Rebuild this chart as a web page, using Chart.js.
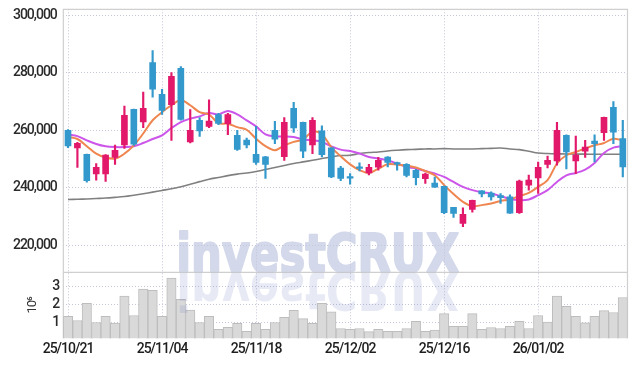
<!DOCTYPE html>
<html><head><meta charset="utf-8">
<script src="https://cdn.jsdelivr.net/npm/chart.js@4.4.1/dist/chart.umd.min.js"></script>
<style>html,body{margin:0;padding:0;background:#fff;overflow:hidden}canvas{display:block}</style>
</head><body>
<canvas id="c" width="637" height="366"></canvas>
<script>
const dates = ['25/10/21','25/10/22','25/10/23','25/10/24','25/10/27','25/10/28','25/10/29','25/10/30','25/10/31',
'25/11/03','25/11/04','25/11/05','25/11/06','25/11/07','25/11/10','25/11/11','25/11/12','25/11/13','25/11/14','25/11/17','25/11/18','25/11/19','25/11/20','25/11/21','25/11/24','25/11/25','25/11/26','25/11/27','25/11/28',
'25/12/01','25/12/02','25/12/03','25/12/04','25/12/05','25/12/08','25/12/09','25/12/10','25/12/11','25/12/12','25/12/15','25/12/16','25/12/17','25/12/18','25/12/19','25/12/22','25/12/23','25/12/24','25/12/26','25/12/29','25/12/30',
'26/01/02','26/01/05','26/01/06','26/01/07','26/01/08','26/01/09','26/01/12','26/01/13','26/01/14','26/01/15'];

const openP  = [260000,253900,251700,244900,244900,250600,254900,267300,262900,283500,272500,268900,281500,256000,263500,261400,265500,262300,258300,256600,251700,250800,260000,250900,267600,262800,254900,259800,253900,246900,243600,246900,245200,247200,250700,248700,248200,246100,243200,241700,240600,233300,227700,232600,239000,238200,237400,236900,231400,241000,243500,248200,249400,258300,249400,252800,256300,259200,268000,257100];
const highP  = [260300,255800,251800,248500,251600,254900,268400,267400,273300,287700,274200,280000,282100,267200,264400,270600,265900,265900,260000,257300,261400,251000,263100,264400,269700,262900,264400,261600,254000,247500,245000,248700,248200,250600,250900,249000,248500,246500,245200,243800,240700,233300,233100,235800,239100,238700,238100,237600,242700,244500,249000,251100,262800,258400,258000,256500,258400,264600,270000,263500];
const lowP   = [254000,247100,242000,242700,242300,248200,253700,254800,260900,271500,265500,256500,263500,255600,257900,260900,262000,258500,253000,253900,248200,243300,255400,249600,259300,250500,251900,250800,243600,242500,241300,245900,244500,246200,247300,246200,243800,241100,241600,240200,231100,229800,226600,231600,236900,235800,234600,231200,231200,239200,238100,247000,247900,246600,245000,250600,249000,256500,255400,243800];
const closeP = [254600,255500,242500,247200,251400,253100,265200,255200,267600,274300,266900,278700,263800,260000,259800,263200,262400,265500,253400,254900,248900,248200,256900,262800,260800,252800,263500,251600,243800,243300,243400,246800,247200,249600,248900,248300,244400,243600,244800,240300,231400,231200,230900,235700,237900,236900,236600,231300,242400,242700,247200,249600,260000,252500,251400,254200,255400,264500,259400,247300];

const volumeM = [1.35,1.11,2.07,1.0,1.35,0.96,2.48,1.39,2.87,2.81,1.35,3.49,2.30,1.69,1.0,1.35,0.62,0.73,0.95,0.51,0.95,0.62,1.0,1.29,1.68,1.22,0.95,2.07,1.6,0.66,0.61,0.66,0.49,0.61,0.51,0.51,0.66,1.06,0.51,0.57,1.5,0.78,0.78,1.5,0.61,0.72,0.66,0.78,1.06,0.66,1.39,1.02,2.48,1.9,1.34,0.98,1.34,1.67,1.56,2.4];

const ma5  = [257700,257000,254500,251900,250550,250200,251900,254800,258900,263500,266300,268700,270400,268700,266300,265500,262500,262300,261100,260200,257100,254500,253100,254800,256000,256800,259550,258600,254200,251000,248200,246200,245200,246700,248200,248100,247800,247100,245900,244400,241000,237900,235200,233700,234050,234600,235500,236000,237200,238300,240400,242700,248500,251350,252500,253700,254800,255600,257100,256500];
const ma20 = [258500,258000,256540,255260,254460,254200,254200,254460,255600,257000,258270,260800,262870,264050,264850,266000,265540,266700,265540,263460,261380,258600,257900,257900,257700,256800,256540,256000,254460,253300,252840,251940,250760,250200,249600,248500,247300,246750,245900,245000,243850,242100,240400,239250,238550,238100,237200,236200,235800,236000,237500,239250,242100,244400,245200,246400,248700,252150,254000,254460];
const ma120 = [236000,236100,236200,236350,236500,236750,237050,237500,238000,238550,239150,239750,240450,241300,242200,243050,243650,244300,244800,245200,245700,246400,247100,247800,248500,249050,249600,250200,250750,251250,251350,251950,252300,252500,252850,253100,253300,253400,253550,253550,253650,253550,253550,253550,253650,253750,253850,253550,253300,252750,252150,251950,251850,251800,251750,251750,251700,251700,251700,251700];

const priceTicks = [220000,240000,260000,280000,300000];
const volumeTicks = [1,2,3];
const tickDates = ['25/10/21','25/11/04','25/11/18','25/12/02','25/12/16','26/01/02'];

const UP = '#e2196a', DOWN = '#3398cb';
const GRID = '#c4c6da';
const FONT = "'Liberation Sans Narrow','Roboto',sans-serif";
const SPACING = '-1px';
const candleColor = dates.map((d,i)=> closeP[i] >= openP[i] ? UP : DOWN);

function watermark(chart, mirror){
  const {ctx, chartArea:a, scales} = chart;
  const y0 = scales.y.bottom;
  const txt = 'investCRUX';
  ctx.save();
  ctx.letterSpacing = '0px';
  ctx.font = "bold 54px 'DejaVu Sans', 'Liberation Sans', sans-serif";
  const w = ctx.measureText(txt).width;
  const sx = 283 / w;
  const x0 = a.left + 113;
  ctx.beginPath();
  if (mirror) ctx.rect(a.left, y0, a.right - a.left, a.bottom - y0);
  else ctx.rect(a.left, a.top, a.right - a.left, y0 - a.top);
  ctx.clip();
  ctx.translate(x0, y0); ctx.scale(sx, mirror ? -1 : 1);
  if (mirror) {
    ctx.fillStyle = 'rgba(110,130,195,0.17)';
    ctx.fillText(txt, 0, 0);
  } else {
    ctx.fillStyle = '#d3d8ea'; ctx.strokeStyle = '#d3d8ea'; ctx.lineWidth = 2; ctx.lineJoin = 'round';
    ctx.strokeText(txt, 0, -0.5);
    ctx.fillText(txt, 0, -0.5);
  }
  ctx.restore();
}

const frame = {
  id: 'frame',
  beforeLayout(chart){ chart.ctx.letterSpacing = SPACING; },
  beforeDraw(chart){ chart.ctx.letterSpacing = SPACING; watermark(chart, false); },
  beforeDatasetsDraw(chart){
    const {ctx, chartArea:a, scales} = chart;
    ctx.save();
    ctx.strokeStyle = '#cfcfcf'; ctx.lineWidth = 1.2;
    ctx.beginPath();
    ctx.moveTo(a.left, a.bottom); ctx.lineTo(a.left, a.top); ctx.lineTo(a.right, a.top); ctx.lineTo(a.right, a.bottom);
    const yb = scales.y.bottom;
    ctx.moveTo(a.left, yb); ctx.lineTo(a.right, yb);
    ctx.stroke();
    ctx.restore();
  },
  afterDatasetsDraw(chart){ watermark(chart, true); }
};

new Chart(document.getElementById('c'), {
  type: 'bar',
  data: {
    labels: dates,
    datasets: [
      { type:'bar', label:'body', data: dates.map((d,i)=>[openP[i], closeP[i]]), yAxisID:'y',
        backgroundColor: candleColor, barThickness: 6, grouped:false, minBarLength: 1.5, order: 0 },
      { type:'bar', label:'wick', data: dates.map((d,i)=>[lowP[i], highP[i]]), yAxisID:'y',
        backgroundColor: candleColor, barThickness: 1.5, grouped:false, order: 1 },
      { type:'line', label:'MA5', data: ma5, yAxisID:'y', borderColor:'#ef8650', borderWidth:2, pointRadius:0, tension:0.35, order: 2 },
      { type:'line', label:'MA20', data: ma20, yAxisID:'y', borderColor:'#cc55ea', borderWidth:2, pointRadius:0, tension:0.35, order: 3 },
      { type:'line', label:'MA120', data: ma120, yAxisID:'y', borderColor:'#808080', borderWidth:1.6, pointRadius:0, tension:0.35, order: 4 },
      { type:'bar', label:'Volume', data: volumeM, yAxisID:'yv', backgroundColor:'#d9d9d9', borderColor:'#bdbdbd', borderWidth:1,
        barPercentage:1, categoryPercentage:1, grouped:false, order: 5 }
    ]
  },
  options: {
    responsive:false, animation:false, devicePixelRatio:1,
    layout:{ padding:{ top:9.3, right:9.5, bottom:5, left:0 } },
    plugins:{ legend:{display:false}, tooltip:{enabled:false} },
    scales:{
      x:{ type:'category', offset:true,
        grid:{ offset:false, color:GRID, drawTicks:false, lineWidth:1 },
        border:{ display:false, dash:[1,2] },
        ticks:{ autoSkip:false, maxRotation:0, padding:3, color:'#1e1e1e', font:{ family:FONT, size:14, weight:'500' } },
        afterBuildTicks: s => { s.ticks = s.ticks.filter(t => tickDates.includes(dates[t.value])); },
        afterFit: s => { s.paddingLeft = 0; s.paddingRight = 0; }
      },
      yv:{ type:'linear', position:'left', stack:'main', stackWeight:1, min:0.118, max:3.81,
        grid:{ color:GRID, drawTicks:false }, border:{ display:false, dash:[1,2] },
        ticks:{ autoSkip:false, padding:4, color:'#2a2a2a', font:{ family:FONT, size:14, weight:'500' } },
        afterBuildTicks: s => { s.ticks = volumeTicks.map(v=>({value:v})); },
        title:{ display:true, text:'10⁶', color:'#333', font:{ family:FONT, size:13 }, padding:{ top:25, bottom:0 } },
        afterFit: s => { s.width = 63.3; s.paddingTop = 0; s.paddingBottom = 0; }
      },
      y:{ type:'linear', position:'left', stack:'main', stackWeight:4.0, min:210700, max:302000,
        grid:{ color:GRID, drawTicks:false }, border:{ display:false, dash:[1,2] },
        ticks:{ autoSkip:false, padding:6.5, color:'#2a2a2a', font:{ family:FONT, size:14, weight:'500' }, callback: v => v.toLocaleString('en-US') },
        afterBuildTicks: s => { s.ticks = priceTicks.map(v=>({value:v})); },
        afterFit: s => { s.width = 63.3; s.paddingTop = 0; s.paddingBottom = 0; }
      }
    }
  },
  plugins:[frame]
});
</script>
</body></html>
